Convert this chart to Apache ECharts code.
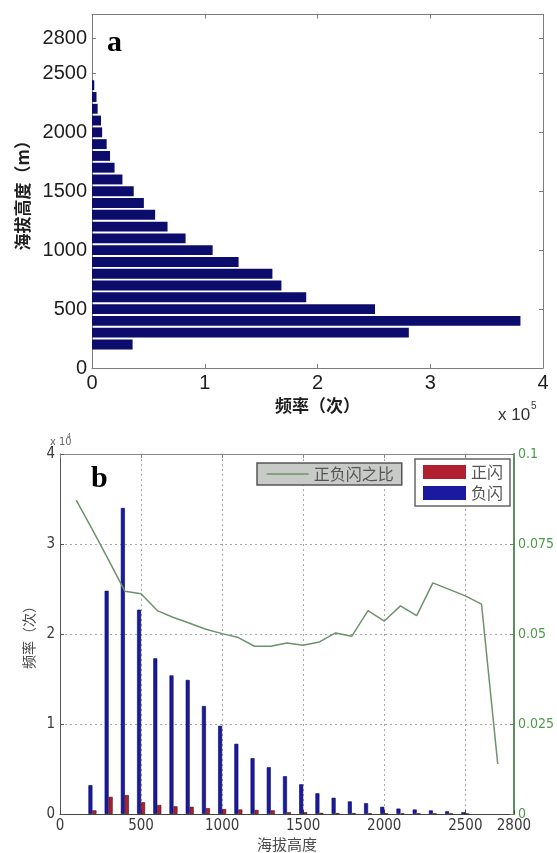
<!DOCTYPE html>
<html>
<head>
<meta charset="utf-8">
<script src="https://cdn.jsdelivr.net/npm/echarts@6/dist/echarts.min.js"></script>
<style>
  html, body { margin: 0; padding: 0; background: #fff; }
  #main { width: 557px; height: 853px; }
</style>
</head>
<body>
<div id="main"></div>
<script>
// --- panel a: lightning count per altitude bin (x 10^5) ---
const altitudeA = [200, 300, 400, 500, 600, 700, 800, 900, 1000, 1100, 1200, 1300,
  1400, 1500, 1600, 1700, 1800, 1900, 2000, 2100, 2200, 2300, 2400];
const countA = [0.36, 2.81, 3.80, 2.51, 1.90, 1.68, 1.60, 1.30, 1.07, 0.83, 0.67, 0.56,
  0.46, 0.37, 0.27, 0.20, 0.16, 0.13, 0.09, 0.08, 0.05, 0.04, 0.02];
const yTicksA = [0, 500, 1000, 1500, 2000, 2500, 2800];

// --- panel b: positive / negative flashes (x 10^4) and their ratio ---
const altitudeB = [200, 300, 400, 500, 600, 700, 800, 900, 1000, 1100, 1200, 1300,
  1400, 1500, 1600, 1700, 1800, 1900, 2000, 2100, 2200, 2300, 2400, 2500];
const negativeB = [0.32, 2.48, 3.40, 2.27, 1.73, 1.54, 1.49, 1.20, 0.98, 0.78, 0.62, 0.52,
  0.42, 0.33, 0.23, 0.18, 0.14, 0.12, 0.08, 0.06, 0.05, 0.04, 0.03, 0.02];
const positiveB = [0.04, 0.19, 0.21, 0.13, 0.10, 0.085, 0.08, 0.065, 0.055, 0.05, 0.045, 0.04,
  0.02, 0.02, 0.012, 0.01, 0.01, 0.008, 0.008, 0.006, 0.006, 0.005, 0.004, 0.004];
const ratioAltitude = [100, 200, 300, 400, 500, 600, 700, 800, 900, 1000, 1100, 1200, 1300,
  1400, 1500, 1600, 1700, 1800, 1900, 2000, 2100, 2200, 2300, 2400, 2500, 2600, 2700];
const ratioB = [0.0872, 0.0790, 0.0705, 0.0619, 0.0612, 0.0565, 0.0546, 0.0530, 0.0513, 0.0501,
  0.0490, 0.0466, 0.0466, 0.0475, 0.0469, 0.0478, 0.0503, 0.0494, 0.0565, 0.0536, 0.0578,
  0.0551, 0.0642, 0.0624, 0.0606, 0.0583, 0.0139];
const xTicksB = [0, 500, 1000, 1500, 2000, 2500, 2800];

// category rows for panel a (one per 100 m, 0..3000)
const rowsA = [];
for (let h = 0; h <= 3000; h += 100) rowsA.push(String(h));
const showRow = (i, v) => yTicksA.includes(Number(v));

const darkText = '#1e1e1e';
const grayText = '#4a4a4a';
const frameA = '#7c7c7c';
const green = '#5b8f5b';
const ratioColor = '#6d926d';
const numFont = '"Liberation Sans", Arial, sans-serif';
const narrowFont = '"Liberation Sans Narrow", "DejaVu Sans Condensed", sans-serif';
const cjkFont = '"Noto Sans CJK SC", sans-serif';

const chart = echarts.init(document.getElementById('main'));

const option = {
  animation: false,
  backgroundColor: '#fff',
  grid: [
    { left: 92, top: 14.5, width: 451, height: 353.5 },
    { left: 60, top: 454, width: 462, height: 366 }
  ],
  legend: [
    {
      data: ['正负闪之比'],
      left: 257, top: 463,
      backgroundColor: '#c8cac8',
      borderColor: '#555', borderWidth: 1.5, borderRadius: 0,
      padding: [3, 8, 3, 9],
      itemWidth: 42, itemHeight: 14,
      itemStyle: { opacity: 0, borderWidth: 0 },
      lineStyle: { color: ratioColor, width: 1.5 },
      textStyle: { fontSize: 16, color: '#555', fontFamily: cjkFont }
    },
    {
      data: ['正闪', '负闪'],
      orient: 'vertical',
      left: 415, top: 459,
      backgroundColor: '#fff',
      borderColor: '#666', borderWidth: 1.5, borderRadius: 0,
      padding: [5, 7, 5, 8],
      itemWidth: 43, itemHeight: 14, itemGap: 5,
      icon: 'rect',
      itemStyle: { borderWidth: 0 },
      textStyle: { fontSize: 16, color: '#555', fontFamily: cjkFont }
    }
  ],
  xAxis: [
    {
      gridIndex: 0, type: 'value', min: 0, max: 4, interval: 1, position: 'bottom',
      name: '频率（次）', nameLocation: 'middle', nameGap: 29,
      nameTextStyle: { fontSize: 17, fontWeight: 'bold', color: darkText, fontFamily: cjkFont },
      axisLine: { show: true, onZero: false, lineStyle: { color: frameA } },
      axisTick: { show: true, inside: true, length: 4, lineStyle: { color: frameA } },
      axisLabel: { fontSize: 20, color: darkText, margin: 5, fontFamily: numFont },
      splitLine: { show: false }
    },
    {
      gridIndex: 0, type: 'value', min: 0, max: 4, interval: 1, position: 'top',
      axisLine: { show: true, onZero: false, lineStyle: { color: frameA } },
      axisTick: { show: true, inside: true, length: 4, lineStyle: { color: frameA } },
      axisLabel: { show: false },
      splitLine: { show: false }
    },
    {
      gridIndex: 1, type: 'value', min: 0, max: 2800, interval: 500, position: 'bottom',
      name: '海拔高度', nameLocation: 'middle', nameGap: 23,
      nameTextStyle: { fontSize: 15, color: grayText, fontFamily: cjkFont },
      axisLine: { show: true, onZero: false, lineStyle: { color: '#444' } },
      axisTick: { show: true, inside: true, length: 4, lineStyle: { color: '#444' } },
      axisLabel: { fontSize: 15, color: '#3a3a3a', margin: 5, fontFamily: narrowFont,
        customValues: xTicksB, formatter: v => String(v) },
      splitLine: { show: true, lineStyle: { color: '#a8a8a8', type: [2, 3] } }
    },
    {
      gridIndex: 1, type: 'value', min: 0, max: 2800, interval: 500, position: 'top',
      axisLine: { show: true, onZero: false, lineStyle: { color: '#888' } },
      axisTick: { show: true, inside: true, length: 4, lineStyle: { color: '#888' } },
      axisLabel: { show: false },
      splitLine: { show: false }
    }
  ],
  yAxis: [
    {
      gridIndex: 0, type: 'category', data: rowsA, boundaryGap: false, position: 'left',
      name: '海拔高度（m）', nameLocation: 'middle', nameGap: 61, nameRotate: 90,
      nameTextStyle: { fontSize: 17, fontWeight: 'bold', color: darkText, fontFamily: cjkFont },
      axisLine: { show: true, onZero: false, lineStyle: { color: frameA } },
      axisTick: { inside: true, length: 4, interval: showRow, lineStyle: { color: frameA } },
      axisLabel: { interval: showRow, fontSize: 20, color: darkText, margin: 5, fontFamily: numFont },
      splitLine: { show: false }
    },
    {
      gridIndex: 0, type: 'category', data: rowsA, boundaryGap: false, position: 'right',
      axisLine: { show: true, onZero: false, lineStyle: { color: frameA } },
      axisTick: { inside: true, length: 4, interval: showRow, lineStyle: { color: frameA } },
      axisLabel: { show: false },
      splitLine: { show: false }
    },
    {
      gridIndex: 1, type: 'value', min: 0, max: 4, interval: 1, position: 'left',
      name: '频率（次）', nameLocation: 'middle', nameGap: 19, nameRotate: 90,
      nameTextStyle: { fontSize: 14, color: grayText, fontFamily: cjkFont },
      axisLine: { show: true, onZero: false, lineStyle: { color: '#555' } },
      axisTick: { show: true, inside: true, length: 4, lineStyle: { color: '#555' } },
      axisLabel: { fontSize: 15, color: '#3a3a3a', margin: 5, fontFamily: narrowFont },
      splitLine: { show: true, lineStyle: { color: '#a8a8a8', type: [2, 3] } }
    },
    {
      gridIndex: 1, type: 'value', min: 0, max: 0.1, interval: 0.025, position: 'right',
      axisLine: { show: true, onZero: false, lineStyle: { color: green, width: 2 } },
      axisTick: { show: true, inside: true, length: 4, lineStyle: { color: green } },
      axisLabel: { fontSize: 14, color: '#4e9a4e', margin: 4, fontFamily: narrowFont },
      splitLine: { show: false }
    }
  ],
  series: [
    {
      type: 'bar', xAxisIndex: 0, yAxisIndex: 0,
      data: altitudeA.map((h, i) => [countA[i], String(h)]),
      barWidth: '84%',
      itemStyle: { color: '#0c0c6c' }
    },
    {
      name: '负闪', type: 'bar', xAxisIndex: 2, yAxisIndex: 2,
      data: altitudeB.map((h, i) => [h, negativeB[i]]),
      barWidth: 4, barGap: '0%',
      itemStyle: { color: '#1a1aa0', borderColor: '#0a0a55', borderWidth: 0.6 }
    },
    {
      name: '正闪', type: 'bar', xAxisIndex: 2, yAxisIndex: 2,
      data: altitudeB.map((h, i) => [h, positiveB[i]]),
      barWidth: 4, barGap: '0%',
      itemStyle: { color: '#b0202e', borderColor: '#3a0a10', borderWidth: 0.6 }
    },
    {
      name: '正负闪之比', type: 'line', xAxisIndex: 2, yAxisIndex: 3,
      data: ratioAltitude.map((h, i) => [h, ratioB[i]]),
      symbol: 'none', z: 5,
      lineStyle: { color: ratioColor, width: 1.5 },
      itemStyle: { color: ratioColor }
    }
  ],
  graphic: [
    { type: 'text', left: 107, top: 28,
      style: { text: 'a', font: 'bold 30px "Liberation Serif", serif', fill: '#000' } },
    { type: 'text', left: 91, top: 464,
      style: { text: 'b', font: 'bold 30px "Liberation Serif", serif', fill: '#000' } },
    { type: 'text', left: 498, top: 407,
      style: { text: 'x 10', font: '17px ' + numFont, fill: '#333' } },
    { type: 'text', left: 531, top: 401,
      style: { text: '5', font: '10px ' + numFont, fill: '#333' } },
    { type: 'text', left: 50, top: 437,
      style: { text: 'x 10', font: '11px ' + narrowFont, fill: '#666' } },
    { type: 'text', left: 67, top: 433,
      style: { text: '4', font: '7px ' + narrowFont, fill: '#666' } }
  ]
};

chart.setOption(option);
</script>
</body>
</html>
